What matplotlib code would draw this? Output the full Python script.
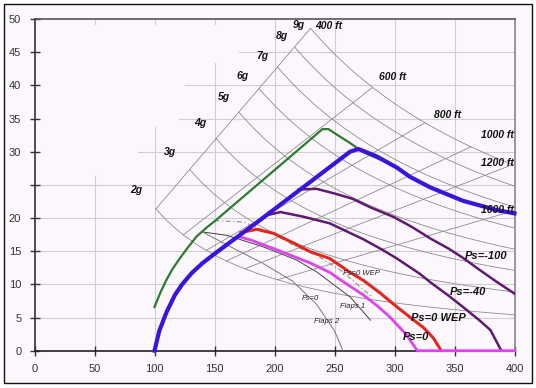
import numpy as np
import matplotlib
matplotlib.use('Agg')
import matplotlib.pyplot as plt
from matplotlib.patches import Rectangle

# ---------------- data ----------------
load_factors = [2, 3, 4, 5, 6, 7, 8, 9]
g_labels = ['2g', '3g', '4g', '5g', '6g', '7g', '8g', '9g']
radii_ft = [400, 600, 800, 1000, 1200, 1600]
radius_labels = ['400 ft', '600 ft', '800 ft', '1000 ft', '1200 ft', '1600 ft']
G_CONST = 1250.0   # turn rate * speed per sqrt(n^2-1)
R_CONST = 84.5     # turn rate * radius per speed

x_ticks = [0, 50, 100, 150, 200, 250, 300, 350, 400]
y_ticks = [0, 5, 10, 15, 20, 25, 30, 35, 40, 45, 50]
y_tick_labels = ['0', '5', '10', '15', '20', '', '30', '35', '40', '45', '50']

# partially visible gridlines: (value, start)
grid_h = [(5, 0), (10, 0), (15, 0), (20, 0), (25, 0), (30, 86), (35, 120), (40, 125), (45, 170)]
grid_v = [(50, 26.3), (100, 33.7), (150, 43.4), (200, 50), (250, 50), (300, 50), (350, 50)]

green_speed = [100, 105, 110, 115, 121, 128, 135, 143, 150, 240, 245, 250, 263, 270, 278, 300]
green_rate = [6.6, 8.8, 10.7, 12.3, 13.9, 15.6, 17.2, 18.5, 19.5, 33.4, 33.4, 32.8, 31.3, 30.4, 29.6, 27.9]

blue_speed = [100, 104, 110, 117, 123, 131, 140, 150, 188, 263, 270, 285, 302, 313, 330, 357, 385, 400]
blue_rate = [0, 3.0, 5.8, 8.4, 10.0, 11.7, 13.2, 14.6, 19.7, 30.0, 30.4, 29.3, 27.6, 26.2, 24.6, 22.6, 21.2, 20.7]

ps100_speed = [220, 235, 250, 265, 280, 300, 315, 330, 345, 357, 370, 385, 400]
ps100_rate = [24.3, 24.4, 23.7, 22.9, 21.6, 20.1, 18.6, 16.9, 15.4, 14.0, 12.3, 10.4, 8.6]

ps40_speed = [193, 205, 224, 246, 260, 274, 290, 302, 321, 330, 345, 357, 370, 380, 389]
ps40_rate = [20.4, 20.9, 20.2, 19.2, 18.0, 16.8, 15.2, 13.9, 11.6, 10.3, 8.3, 6.6, 4.7, 3.1, 0]

wep_speed = [172, 185, 199, 215, 230, 246, 263, 274, 288, 302, 314, 324, 332, 339]
wep_rate = [17.8, 18.3, 17.7, 16.3, 14.9, 13.9, 11.8, 10.6, 8.7, 6.6, 4.9, 3.5, 2.0, 0]

ps0_speed = [163, 170, 180, 202, 230, 246, 263, 274, 286, 296, 310, 319, 400]
ps0_rate = [16.4, 17.2, 16.7, 15.2, 13.2, 11.8, 9.7, 8.4, 6.7, 5.1, 2.4, 0, 0]

fswep_speed = [150, 174, 200, 218, 235, 257, 274, 282]
fswep_rate = [19.6, 19.4, 17.5, 15.7, 14.4, 11.9, 9.2, 8.1]

flaps1_speed = [140, 160, 190, 218, 235, 263, 280]
flaps1_rate = [17.9, 17.4, 15.7, 13.7, 11.9, 8.1, 4.6]

flaps2_speed = [140, 163, 190, 215, 235, 250, 257]
flaps2_rate = [17.9, 15.7, 13.2, 10.5, 7.0, 3.0, 0]

# ---------------- figure ----------------
fig = plt.figure(figsize=(5.36, 3.88), dpi=100)
fig.patch.set_facecolor('white')
border = Rectangle((4/536, 1-383/388), 528/536, 379/388, transform=fig.transFigure,
                   facecolor='#fcf7fc', edgecolor='#111111', lw=1.0, zorder=-10)
fig.add_artist(border)
ax = fig.add_axes([34.5/536, 1-350.7/388, 480/536, (350.7-19)/388])
ax.set_zorder(5)
ax.set_facecolor('#fcf7fc')
ax.set_xlim(0, 400)
ax.set_ylim(0, 50)

gc = '#cfcfcf'
for yv, xs in grid_h:
    ax.plot([xs, 400], [yv, yv], color=gc, lw=0.8, zorder=1)
for xv, ye in grid_v:
    ax.plot([xv, xv], [0, ye], color=gc, lw=0.8, zorder=1)
for xv in [50, 100, 150]:
    ax.plot([xv, xv], [49.2, 50], color=gc, lw=0.8, zorder=1)

# turn-radius / load-factor grid
kr = [R_CONST / r for r in radii_ft]
def g_rate(n, v):
    return G_CONST * np.sqrt(n**2 - 1) / v
k400 = kr[0]
for n in load_factors:
    v0 = np.sqrt(G_CONST * np.sqrt(n**2 - 1) / k400)
    v = np.linspace(v0, 400, 150)
    ax.plot(v, g_rate(n, v), color='#8c8c8c', lw=0.6, zorder=2)
for k in kr:
    v0 = np.sqrt(G_CONST * np.sqrt(2**2 - 1) / k)
    v1 = min(400, np.sqrt(G_CONST * np.sqrt(9**2 - 1) / k))
    ax.plot([v0, v1], [k*v0, k*v1], color='#8c8c8c', lw=0.6, zorder=2)

# thin lines
ax.plot(fswep_speed, fswep_rate, color='#999999', lw=0.9, ls=(0, (4, 2, 1, 2)), zorder=3)
ax.plot(flaps1_speed, flaps1_rate, color='#444444', lw=0.7, zorder=3)
ax.plot(flaps2_speed, flaps2_rate, color='#777777', lw=0.7, zorder=3)

# main curves
ax.plot(green_speed, green_rate, color='#2b7d2b', lw=1.6, zorder=4)
ax.plot(ps100_speed, ps100_rate, color='#5e1a70', lw=1.8, zorder=5)
ax.plot(ps40_speed, ps40_rate, color='#5e1a70', lw=1.8, zorder=5)
ax.plot(wep_speed, wep_rate, color='#e0281e', lw=2.2, zorder=5)
ax.plot(ps0_speed, ps0_rate, color='#dd44ee', lw=2.0, zorder=5, clip_on=False)
ax.plot(blue_speed, blue_rate, color='#3a14dc', lw=3.0, zorder=6, clip_on=False)

# labels
lab = dict(fontsize=7.5, fontweight='bold', style='italic', family='Liberation Sans',
           color='#111111', ha='center', va='center', zorder=8)
g_pos = [(85, 24.2), (113, 29.9), (138, 34.3), (158, 38.3), (173, 41.4), (190, 44.4), (206, 47.5), (220, 49.1)]
for t, (px, py) in zip(g_labels, g_pos):
    ax.text(px, py, t, **lab)
r_pos = [(245, 49), (298, 41.3), (344, 35.5), (385.5, 32.5), (385.5, 28.3), (385.5, 21.2)]
for t, (px, py) in zip(radius_labels, r_pos):
    ax.text(px, py, t, **lab)

big = dict(lab, fontsize=8)
ax.text(376, 14.2, 'Ps=-100', **big)
ax.text(361, 8.9, 'Ps=-40', **big)
ax.text(336.5, 5.0, 'Ps=0 WEP', **big)
ax.text(318, 2.1, 'Ps=0', **big)

small = dict(fontsize=5.5, style='italic', family='Liberation Sans', color='#222222',
             ha='center', va='center', zorder=8)
ax.text(272.5, 11.7, 'Fs=0 WEP', **small)
ax.text(230, 7.9, 'Fs=0', **small)
ax.text(265, 6.6, 'Flaps 1', **small)
ax.text(243, 4.4, 'Flaps 2', **small)

ax.set_xticks(x_ticks)
ax.set_yticks(y_ticks)
ax.set_yticklabels(y_tick_labels)
ax.tick_params(direction='inout', length=7, width=1, colors='#333333', labelsize=8, pad=6)
for lbl in ax.get_xticklabels() + ax.get_yticklabels():
    lbl.set_family('Liberation Sans')
    lbl.set_color('#333333')
ax.spines['left'].set_color('#333333')
ax.spines['bottom'].set_color('#222222')
ax.spines['top'].set_color('#555555')
ax.spines['right'].set_color('#888888')
for s in ax.spines.values():
    s.set_linewidth(1.2)

fig.savefig('out.png', dpi=100)
